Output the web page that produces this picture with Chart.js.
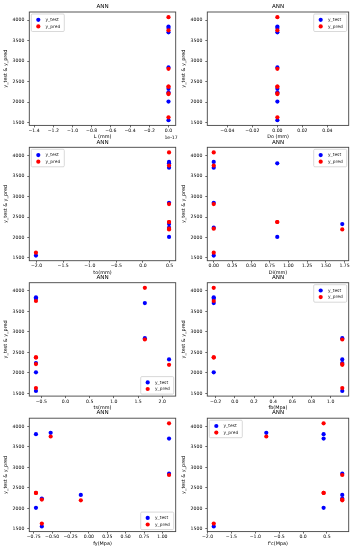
<!DOCTYPE html>
<html><head><meta charset="utf-8">
<script src="https://cdn.jsdelivr.net/npm/chart.js@4.4.1/dist/chart.umd.min.js"></script>
<style>
html,body{margin:0;padding:0;background:#fff;width:357px;height:550px;overflow:hidden}
canvas{position:absolute;left:0;top:0}
</style></head><body>
<script>
// ---- data (8 test samples) ----
const yTest = [1560, 3845, 3810, 2015, 3705, 2848, 2328, 2240];
const yPred = [1630, 3755, 2378, 2378, 4075, 2815, 2198, 2215];
// features (L in units of 1e-17)
const featL  = [0, 0, 0, 0, 0, 0, 0, 0];
const featDo = [0, 0, 0, 0, 0, 0, 0, 0];
const featTo = [-2.01, 0.49, 0.49, 0.49, 0.49, 0.49, 0.49, 0.49];
const featDi = [0, 0, 0.85, 0.85, 0, 0, 1.72, 0];
const featTs = [-0.61, -0.61, -0.61, -0.61, 1.64, 1.64, 2.14, -0.61];
const featFb = [1.12, -0.22, -0.22, -0.22, -0.22, 1.12, 1.12, 1.12];
const featFy = [-0.64, -0.52, -0.72, -0.72, 1.09, 1.09, -0.11, -0.64];
const featFc = [-1.87, -0.77, 0.43, 0.43, 0.43, 0.82, 0.82, 0.82];
// tick labels
const yTicks   = [1500, 2000, 2500, 3000, 3500, 4000];
const xTicksL  = [-1.4, -1.2, -1.0, -0.8, -0.6, -0.4, -0.2, 0.0];
const xTicksDo = [-0.04, -0.02, 0.00, 0.02, 0.04];
const xTicksTo = [-2.0, -1.5, -1.0, -0.5, 0.0, 0.5];
const xTicksDi = [0.00, 0.25, 0.50, 0.75, 1.00, 1.25, 1.50, 1.75];
const xTicksTs = [-0.5, 0.0, 0.5, 1.0, 1.5, 2.0];
const xTicksFb = [-0.2, 0.0, 0.2, 0.4, 0.6, 0.8, 1.0];
const xTicksFy = [-0.75, -0.50, -0.25, 0.00, 0.25, 0.50, 0.75, 1.00];
const xTicksFc = [-2.0, -1.5, -1.0, -0.5, 0.0, 0.5];
const xLabels  = ['L (mm)', 'Do (mm)', 'to(mm)', 'Di(mm)', 'ts(mm)', 'fb(Mpa)', 'fy(Mpa)', "f'c(Mpa)"];
const seriesNames = ['y_test', 'y_pred'];
const chartTitle = 'ANN';
const yLabel = 'y_test & y_pred';

const FAM = '"DejaVu Sans", sans-serif';
const panels = [
  {xs: featL,  ticks: xTicksL,  min: -1.45,  max: 0.075, dec: 1, legend: 'ul', offsetText: '1e-17'},
  {xs: featDo, ticks: xTicksDo, min: -0.056, max: 0.057, dec: 2, legend: 'ur'},
  {xs: featTo, ticks: xTicksTo, min: -2.135, max: 0.615, dec: 1, legend: 'ul'},
  {xs: featDi, ticks: xTicksDi, min: -0.086, max: 1.806, dec: 2, legend: 'ur'},
  {xs: featTs, ticks: xTicksTs, min: -0.7475, max: 2.2775, dec: 1, legend: 'lr'},
  {xs: featFb, ticks: xTicksFb, min: -0.287, max: 1.187, dec: 1, legend: 'ur'},
  {xs: featFy, ticks: xTicksFy, min: -0.8105, max: 1.1805, dec: 2, legend: 'lr'},
  {xs: featFc, ticks: xTicksFc, min: -2.005, max: 0.955, dec: 1, legend: 'ul'}
];

function fmt(v, dec) {
  let s = Math.abs(v) < 1e-12 ? (0).toFixed(dec) : Number(v).toFixed(dec);
  return s.replace('-', '\u2212');
}

const plotLeft = [29.3, 207.3], plotRight = [175.7, 348.7];
const plotTop = [12, 147.3, 282.7, 418.2], plotH = 113.4;
const Wy = 27, Hx = 14.6;
const titleSize = 5.6, titlePadB = 1.8;
const tickSize = 4.6, labelSize = 4.9, legendSize = 4.4;
const COLORS = ['#0000ff', '#ff0000'];
const PR = 2.1;

const framePlugin = {
  id: 'frame',
  afterDraw(chart, args, opts) {
    const {ctx, chartArea: a} = chart;
    ctx.save();
    ctx.strokeStyle = '#444'; ctx.lineWidth = 0.9;
    ctx.strokeRect(a.left, a.top, a.right - a.left, a.bottom - a.top);
    // legend
    const W = 33, H = 17.5;
    let lx = opts.legend === 'ul' ? a.left + 2 : a.right - 2 - W;
    let ly = opts.legend === 'lr' ? a.bottom - 2 - H : a.top + 2;
    ctx.fillStyle = 'rgba(255,255,255,0.8)';
    ctx.strokeStyle = '#c8c8c8'; ctx.lineWidth = 0.7;
    ctx.beginPath();
    if (ctx.roundRect) ctx.roundRect(lx, ly, W, H, 1.2); else ctx.rect(lx, ly, W, H);
    ctx.fill(); ctx.stroke();
    ctx.font = legendSize + 'px ' + FAM; ctx.textBaseline = 'middle'; ctx.textAlign = 'left';
    seriesNames.forEach((n, k) => {
      const cy = ly + 5.8 + k * 6.6;
      ctx.fillStyle = COLORS[k];
      ctx.beginPath(); ctx.arc(lx + 7, cy, PR, 0, Math.PI * 2); ctx.fill();
      ctx.fillStyle = '#222';
      ctx.fillText(n, lx + 14.2, cy);
    });
    if (opts.offsetText) {
      ctx.font = tickSize + 'px ' + FAM; ctx.textAlign = 'right'; ctx.fillStyle = '#000';
      ctx.fillText(opts.offsetText, a.right + 2, a.bottom + 12);
    }
    ctx.restore();
  }
};

panels.forEach((p, i) => {
  const r = Math.floor(i / 2), c = i % 2;
  const L = plotLeft[c], R = plotRight[c], T = plotTop[r], B = T + plotH;
  const cv = document.createElement('canvas');
  cv.width = 357; cv.height = 550;
  document.body.appendChild(cv);
  const titleBox = titleSize * 1.2 + titlePadB;
  new Chart(cv, {
    type: 'scatter',
    data: {
      datasets: [
        {label: seriesNames[0], data: p.xs.map((x, k) => ({x: x, y: yTest[k]})), backgroundColor: COLORS[0], borderWidth: 0, pointRadius: PR, order: 1},
        {label: seriesNames[1], data: p.xs.map((x, k) => ({x: x, y: yPred[k]})), backgroundColor: COLORS[1], borderWidth: 0, pointRadius: PR, order: 0}
      ]
    },
    options: {
      responsive: false, animation: false, devicePixelRatio: 1,
      layout: {padding: {left: L - Wy, right: 357 - R, top: T - titleBox, bottom: 550 - B - Hx}},
      plugins: {
        legend: {display: false}, tooltip: {enabled: false},
        title: {display: true, text: chartTitle, fullSize: false, color: '#000', font: {family: FAM, size: titleSize, weight: 'normal'}, padding: {top: 0, bottom: titlePadB}},
        frame: {legend: p.legend, offsetText: p.offsetText}
      },
      scales: {
        x: {
          type: 'linear', position: 'bottom', min: p.min, max: p.max,
          afterBuildTicks: s => { s.ticks = p.ticks.map(v => ({value: v})); },
          afterFit: s => { s.height = Hx; s.paddingLeft = 0; s.paddingRight = 0; },
          ticks: {callback: v => fmt(v, p.dec), font: {family: FAM, size: tickSize}, color: '#000', padding: 0.5, maxRotation: 0, autoSkip: false},
          grid: {display: true, drawOnChartArea: false, drawTicks: true, tickLength: 2, color: '#444', lineWidth: 0.8},
          border: {display: false},
          title: {display: true, text: xLabels[i], color: '#000', font: {family: FAM, size: labelSize}, padding: 0}
        },
        y: {
          type: 'linear', position: 'left', min: 1434, max: 4201,
          afterBuildTicks: s => { s.ticks = yTicks.map(v => ({value: v})); },
          afterFit: s => { s.width = Wy; s.paddingTop = 0; s.paddingBottom = 0; },
          ticks: {callback: v => String(v), font: {family: FAM, size: tickSize}, color: '#000', padding: 3, autoSkip: false},
          grid: {display: true, drawOnChartArea: false, drawTicks: true, tickLength: 2, color: '#444', lineWidth: 0.8},
          border: {display: false},
          title: {display: true, text: yLabel, color: '#000', font: {family: FAM, size: labelSize}, padding: {top: 0.6, bottom: 0}}
        }
      }
    },
    plugins: [framePlugin]
  });
});
</script>
</body></html>
